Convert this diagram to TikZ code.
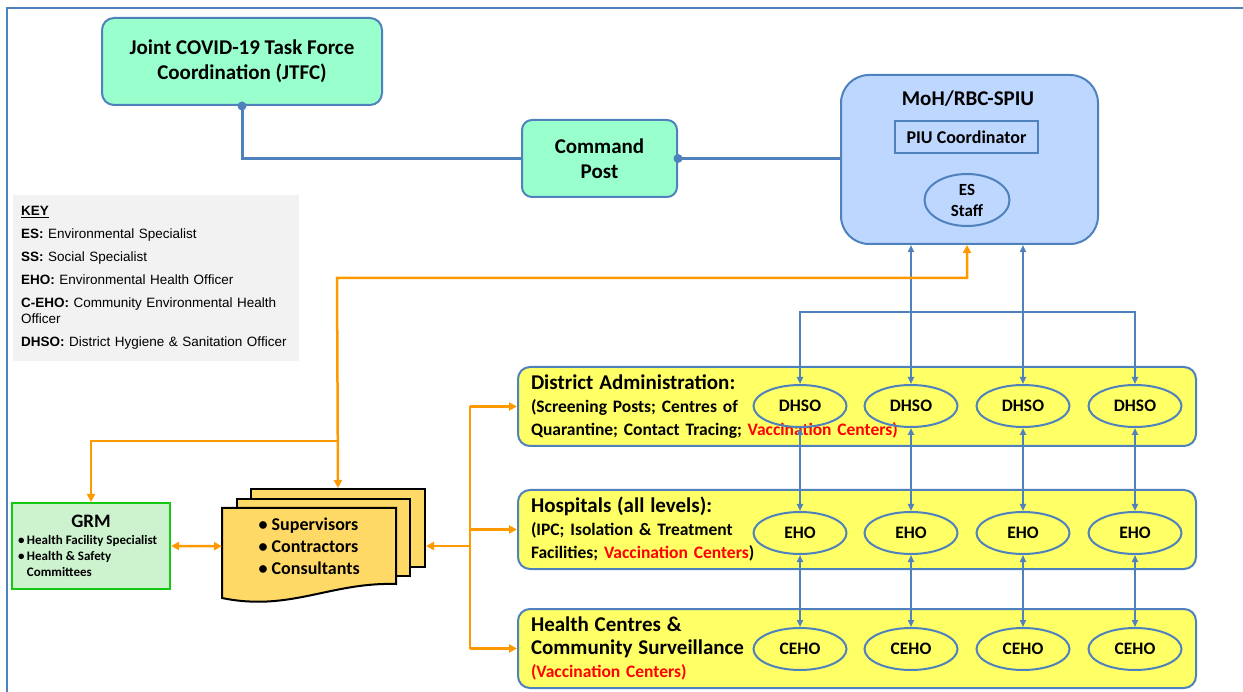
\documentclass[tikz,border=0pt]{standalone}
\usepackage{fontspec}
\setmainfont{Carlito}
\newfontfamily\keyfont{Liberation Sans}
\usetikzlibrary{shapes.geometric,arrows.meta}
\frenchspacing

\definecolor{lineblue}{RGB}{79,129,189}
\definecolor{mint}{RGB}{153,255,204}
\definecolor{mohblue}{RGB}{190,215,255}
\definecolor{keygray}{RGB}{242,242,242}
\definecolor{grmfill}{RGB}{204,242,206}
\definecolor{grmgreen}{RGB}{20,200,20}
\definecolor{docyellow}{RGB}{255,217,102}
\definecolor{boxyellow}{RGB}{255,255,102}
\definecolor{lineorange}{RGB}{255,153,0}

\begin{document}
\begin{tikzpicture}[x=1pt,y=-1pt,
  box/.style={draw=lineblue, line width=2pt, fill=mint, rounded corners=12pt, align=center,
    font=\bfseries\fontsize{21}{25}\selectfont},
  ybox/.style={draw=lineblue, line width=2pt, fill=boxyellow, rounded corners=12pt, anchor=north west,
    minimum width=678pt, minimum height=79pt, text width=652pt, inner xsep=13pt, align=left,
    font=\bfseries\fontsize{17.5}{23}\selectfont},
  officer/.style={ellipse, draw=lineblue, line width=2pt, minimum width=93pt, minimum height=42pt,
    inner sep=0pt, font=\bfseries\fontsize{17.5}{20}\selectfont},
  page/.style={draw=black, line width=2pt, fill=docyellow, anchor=north west},
  bline/.style={draw=lineblue, line width=2pt, >={Triangle[length=7pt,width=6pt]}},
  oline/.style={draw=lineorange, line width=2.5pt, >={Triangle[length=8pt,width=8pt]}}]
  \useasboundingbox (0,0) rectangle (1243,692);
  \draw[lineblue, line width=1.2pt] (7,692) |- (1243,8);

  \node[box, minimum width=280pt, minimum height=87pt] (jtfc) at (242,61.5) {Joint COVID-19 Task Force\\Coordination (JTFC)};
  \node[box, rounded corners=10pt, minimum width=155pt, minimum height=77pt] (cmd) at (599.5,158.5) {Command\\Post};
  \node[draw=lineblue, line width=2pt, fill=mohblue, rounded corners=28pt, minimum width=257pt,
    minimum height=169pt, anchor=north west] (moh) at (840,74) {};
  \node[font=\bfseries\fontsize{21}{24}\selectfont] (mohtitle) at (968,99) {MoH/RBC-SPIU};
  \node[draw=lineblue, line width=2pt, minimum width=143pt, minimum height=32pt,
    font=\bfseries\fontsize{18}{20}\selectfont] (piu) at (966.5,137) {PIU Coordinator};
  \node[ellipse, draw=lineblue, line width=2pt, minimum width=85pt, minimum height=52pt, inner sep=0pt,
    align=center, font=\bfseries\fontsize{17}{21}\selectfont] (es) at (967,200) {ES\\Staff};

  \draw[lineblue, line width=3pt] (jtfc.south) |- (cmd.west);
  \draw[lineblue, line width=3pt] (cmd.east) -- (cmd.east -| moh.west);
  \fill[lineblue] (jtfc.south) circle (4.5);
  \fill[lineblue] (cmd.east) circle (4.5);

  \node[fill=keygray, anchor=north west, text width=270pt, minimum height=166pt, inner sep=8pt, align=left,
    font=\keyfont\fontsize{13.5}{16}\selectfont] (key) at (13,195)
    {\textbf{\underline{KEY}}\\[7pt]
     \textbf{ES:} Environmental Specialist\\[7pt]
     \textbf{SS:} Social Specialist\\[7pt]
     \textbf{EHO:} Environmental Health Officer\\[7pt]
     \textbf{C-EHO:} Community Environmental Health\\Officer\\[7pt]
     \textbf{DHSO:} District Hygiene \& Sanitation Officer};

  \node[ybox] (da) at (517,366) {{\fontsize{21}{23}\selectfont District Administration:}\\
    (Screening Posts; Centres of\\
    Quarantine; Contact Tracing; \textcolor{red}{Vaccination Centers)}};
  \node[ybox] (hosp) at (517,489) {{\fontsize{21}{23}\selectfont Hospitals (all levels):}\\
    (IPC; Isolation \& Treatment\\
    Facilities; \textcolor{red}{Vaccination Centers})};
  \node[ybox] (hc) at (517,608) {{\fontsize{21}{23}\selectfont Health Centres \&}\\
    {\fontsize{21}{23}\selectfont Community Surveillance}\\
    \textcolor{red}{(Vaccination Centers)}};

  \foreach \x [count=\i] in {800,911,1023,1135} {
    \node[officer] (d\i) at (\x,406) {DHSO};
    \node[officer] (e\i) at (\x,533) {EHO};
    \node[officer] (c\i) at (\x,649) {CEHO};
  }
  \coordinate (bbus) at (800,312);
  \draw[bline,<->] (moh.south -| d2) -- (d2.north);
  \draw[bline,<->] (moh.south -| d3) -- (d3.north);
  \draw[bline,<->] (d1.north) -- (d1.north |- bbus) -| (d4.north);
  \foreach \i in {1,...,4} {
    \draw[bline,<->] (d\i.south) -- (e\i.north);
    \draw[bline,<->] (e\i.south) -- (c\i.north);
  }

  \node[draw=grmgreen, line width=2pt, fill=grmfill, minimum width=158pt, minimum height=86pt, inner sep=2pt,
    align=center, font=\bfseries\fontsize{13}{17}\selectfont] (grm) at (91,546)
    {{\fontsize{19}{20}\selectfont GRM}\\
     \parbox[t]{146pt}{\fontsize{13}{16}\selectfont
       \makebox[9pt][l]{\textbullet}Health Facility Specialist\\
       \makebox[9pt][l]{\textbullet}Health \& Safety\\
       \hspace*{9pt}Committees}};

  \node[page, minimum width=174pt, minimum height=78pt] (docback) at (250,488) {};
  \node[page, minimum width=173pt, minimum height=77pt] (docmid) at (236,498) {};
  \draw[line width=2pt, fill=docyellow] (222,508) -- (396,508) -- (396,584)
    .. controls (330,582) and (290,612) .. (222,598) -- cycle;
  \node[anchor=north west, minimum width=174pt, minimum height=76pt, align=left,
    font=\bfseries\fontsize{18}{22}\selectfont] (docs) at (222,508)
    {\textbullet\ Supervisors\\\textbullet\ Contractors\\\textbullet\ Consultants};

  \coordinate (otop) at (337,278);
  \coordinate (ofork) at (337,441);
  \coordinate (obus) at (470,546);
  \draw[oline,<->] (es |- moh.south) |- (otop) -- (docback.north);
  \draw[oline,->] (ofork) -| (grm.north);
  \draw[oline,<->] (grm.east) -- (docs.west);
  \draw[oline,->] (obus) -- (docback.east |- obus);
  \draw[oline] (obus |- da.west) -- (obus |- hc.west);
  \foreach \b in {da,hosp,hc}
    \draw[oline,->] (obus |- \b.west) -- (\b.west);
\end{tikzpicture}
\end{document}
